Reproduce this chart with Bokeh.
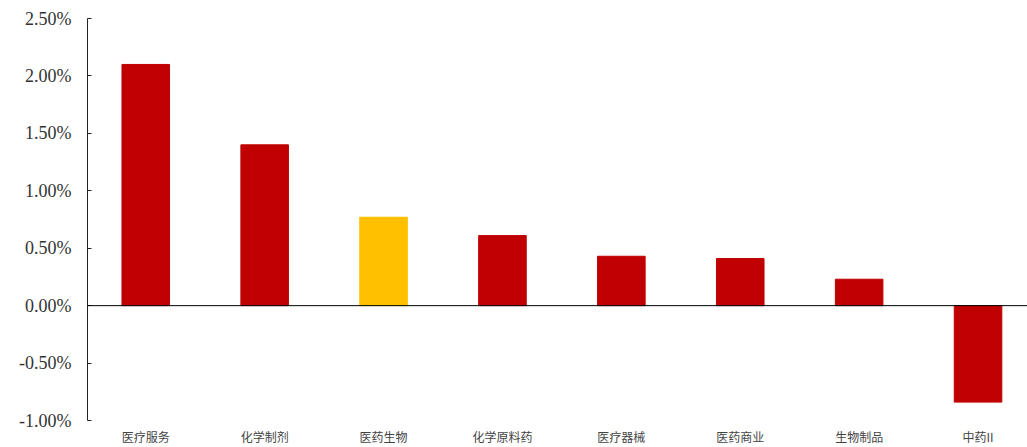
from bokeh.plotting import figure
from bokeh.models import Range1d, FixedTicker, NumeralTickFormatter, Span, ColumnDataSource
from bokeh.embed import file_html
from bokeh.resources import INLINE

categories = ["医疗服务", "化学制剂", "医药生物", "化学原料药", "医疗器械", "医药商业", "生物制品", "中药II"]
values = [0.0210, 0.0140, 0.0077, 0.0061, 0.0043, 0.0041, 0.0023, -0.0084]
colors = ["#C00000", "#C00000", "#FFC000", "#C00000", "#C00000", "#C00000", "#C00000", "#C00000"]
y_ticks = [-0.01, -0.005, 0.0, 0.005, 0.01, 0.015, 0.02, 0.025]

idx = list(range(len(categories)))
src = ColumnDataSource(dict(x=idx, top=values, color=colors))

p = figure(width=1027, height=447, output_backend="svg", toolbar_location=None,
           x_range=Range1d(-0.49, 7.416), y_range=Range1d(-0.01, 0.025),
           min_border_left=87, min_border_right=0, min_border_top=18, min_border_bottom=27)
p.outline_line_color = None
p.xgrid.grid_line_color = None
p.ygrid.grid_line_color = None
p.background_fill_color = "white"
p.border_fill_color = "white"

p.vbar(x="x", top="top", bottom=0, width=0.4, color="color", source=src)
p.add_layout(Span(location=0, dimension="width", line_color="black", line_width=1))

ya = p.yaxis[0]
ya.ticker = FixedTicker(ticks=y_ticks)
ya.formatter = NumeralTickFormatter(format="0.00%")
ya.major_tick_in = 4
ya.major_tick_out = 0
ya.minor_tick_in = 0
ya.minor_tick_out = 0
ya.axis_line_color = "#222222"
ya.major_tick_line_color = "#222222"
ya.major_label_text_font = "Liberation Serif"
ya.major_label_text_font_size = "18px"
ya.major_label_text_color = "#333333"
ya.major_label_standoff = 16

xa = p.xaxis[0]
xa.ticker = FixedTicker(ticks=idx)
xa.major_label_overrides = {i: c for i, c in zip(idx, categories)}
xa.axis_line_color = None
xa.major_tick_line_color = None
xa.minor_tick_line_color = None
xa.major_tick_in = 0
xa.major_tick_out = 0
xa.major_label_text_font = "Noto Sans CJK SC"
xa.major_label_text_font_size = "12px"
xa.major_label_text_color = "#444444"
xa.major_label_standoff = 7

open("out.html", "w").write(file_html(p, INLINE))
